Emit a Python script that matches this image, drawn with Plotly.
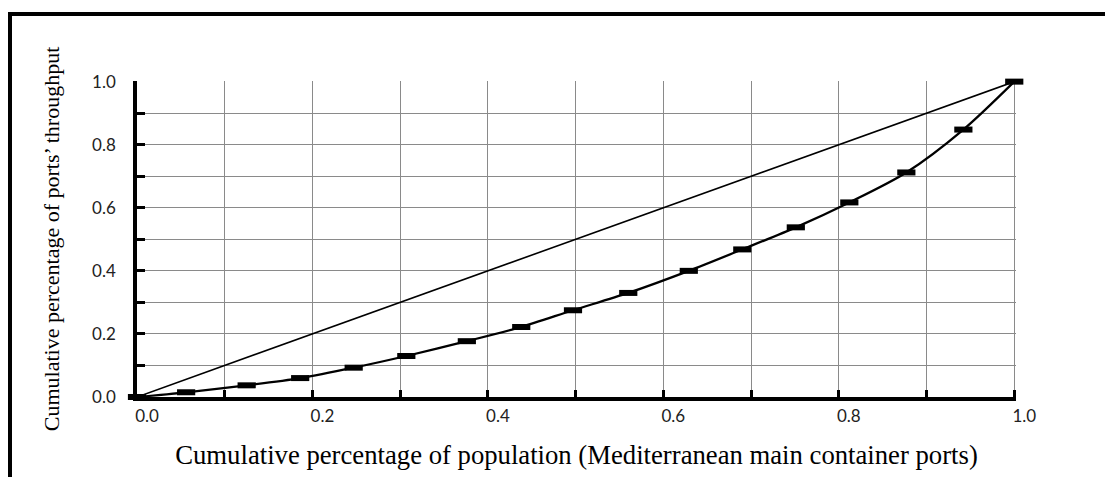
import plotly.graph_objects as go

# Lorenz curve of port throughput
pop_share = [0.0, 0.056, 0.125, 0.186, 0.247, 0.307, 0.376, 0.438, 0.497,
             0.560, 0.629, 0.690, 0.751, 0.812, 0.877, 0.942, 1.0]
thr_share = [0.0, 0.015, 0.037, 0.060, 0.093, 0.130, 0.177, 0.222, 0.275,
             0.330, 0.400, 0.468, 0.538, 0.617, 0.712, 0.848, 1.0]

equality_x = [0.0, 1.0]
equality_y = [0.0, 1.0]

tick_vals = [0.0, 0.2, 0.4, 0.6, 0.8, 1.0]
tick_text = ["0.0", "0.2", "0.4", "0.6", "0.8", "1.0"]

x_title = "Cumulative percentage of population (Mediterranean main container ports)"
y_title = "Cumulative percentage of ports\u2019 throughput"

# page body has an 8px margin, so the figure is 8px smaller than the window
W, H = 1105, 469
L, R, T, B = 129, 97, 73, 80

fig = go.Figure()

fig.add_trace(go.Scatter(
    x=equality_x, y=equality_y,
    mode="lines",
    line=dict(color="black", width=1.6),
    cliponaxis=False,
    showlegend=False
))

fig.add_trace(go.Scatter(
    x=pop_share, y=thr_share,
    mode="lines+markers",
    line=dict(color="black", width=2.3, shape="spline", smoothing=0.8),
    marker=dict(symbol="line-ew", size=13,
                line=dict(color="black", width=6)),
    cliponaxis=False,
    showlegend=False
))

grid_col = "#8a8a8a"
tick_font = dict(family="Lato, Open Sans, sans-serif", size=17, color="#222")
serif = "Liberation Serif, Times New Roman, serif"

fig.update_xaxes(
    range=[0, 1.002],
    tickvals=tick_vals, ticktext=tick_text,
    ticks="inside", ticklen=7, tickwidth=3, tickcolor="black",
    showgrid=True, gridcolor=grid_col, gridwidth=1.2,
    minor=dict(dtick=0.1, tick0=0, ticks="inside", ticklen=7, tickwidth=3,
               tickcolor="black", showgrid=True, gridcolor=grid_col, gridwidth=1.2),
    showline=True, linecolor="black", linewidth=3.5,
    zeroline=False,
    tickfont=tick_font,
    ticklabelshift=10,
    ticklabelstandoff=1,
    title=dict(text=x_title, standoff=21,
               font=dict(family=serif, size=26.7, color="black")),
)

fig.update_yaxes(
    range=[0, 1.002],
    tickvals=tick_vals, ticktext=tick_text,
    ticks="inside", ticklen=8, tickwidth=3, tickcolor="black",
    showgrid=True, gridcolor=grid_col, gridwidth=1.2,
    minor=dict(dtick=0.1, tick0=0, ticks="inside", ticklen=8, tickwidth=3,
               tickcolor="black", showgrid=True, gridcolor=grid_col, gridwidth=1.2),
    showline=True, linecolor="black", linewidth=3.5,
    zeroline=False,
    tickfont=tick_font,
    ticklabelstandoff=14,
    title=dict(text=y_title, standoff=27,
               font=dict(family=serif, size=22, color="black")),
)

# outer frame (left and top edges only, as cropped in the source)
pw, ph = W - L - R, H - T - B
def px(xp):
    return (xp - L) / pw
def py(yp):
    return (H - B - yp) / ph

fig.add_shape(type="line", xref="paper", yref="paper",
              x0=px(2), x1=px(W + 5), y0=py(6), y1=py(6),
              line=dict(color="black", width=4))
fig.add_shape(type="line", xref="paper", yref="paper",
              x0=px(2), x1=px(2), y0=py(4), y1=py(H + 5),
              line=dict(color="black", width=4))

fig.update_layout(
    width=W, height=H,
    margin=dict(l=L, r=R, t=T, b=B),
    plot_bgcolor="white",
    paper_bgcolor="white",
    showlegend=False,
)

fig.write_html("out.html")
